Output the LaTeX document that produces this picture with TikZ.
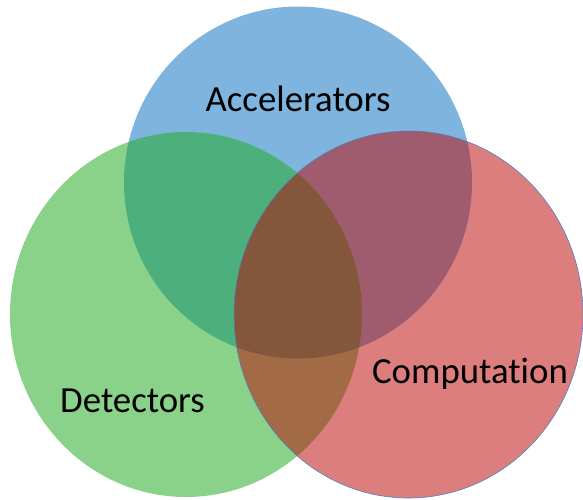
\documentclass[tikz,border=0pt]{standalone}
\usepackage{fontspec}
\setmainfont{Carlito}[Ligatures=NoCommon]
\definecolor{cB}{RGB}{126,180,221}
\definecolor{cG}{RGB}{138,209,138}
\definecolor{cR}{RGB}{221,126,126}
\definecolor{cBG}{RGB}{77,176,124}
\definecolor{cBR}{RGB}{158,92,110}
\definecolor{cGR}{RGB}{163,106,70}
\definecolor{cBGR}{RGB}{132,86,60}
\definecolor{edge}{RGB}{79,129,189}
\begin{document}
\begin{tikzpicture}[x=1pt,y=-1pt,
  lbl/.style={font=\fontsize{36.8}{40}\selectfont, anchor=base, inner sep=0pt, text=black}]
\useasboundingbox (0,0) rectangle (583,499);
\def\blueC{(298,182.5) ellipse [x radius=174, y radius=176]}
\def\greenC{(186,314.5) ellipse [x radius=176, y radius=182.5]}
\def\redC{(408.5,314.5) ellipse [x radius=174.5, y radius=183.5]}
\fill[cB] \blueC;
\fill[cG] \greenC;
\fill[cR] \redC;
\begin{scope}
  \clip \blueC;
  \fill[cBG] \greenC;
  \fill[cBR] \redC;
\end{scope}
\begin{scope}
  \clip \greenC;
  \fill[cGR] \redC;
\end{scope}
\begin{scope}
  \clip \blueC;
  \clip \greenC;
  \fill[cBGR] \redC;
\end{scope}
\draw[edge, line width=0.6pt] \redC;
\node[lbl] (acc) at (298,111) {Accelerators};
\node[lbl] (comp) at (470,383) {Computation};
\node[lbl] (det) at (132.5,412) {Detectors};
\end{tikzpicture}
\end{document}
